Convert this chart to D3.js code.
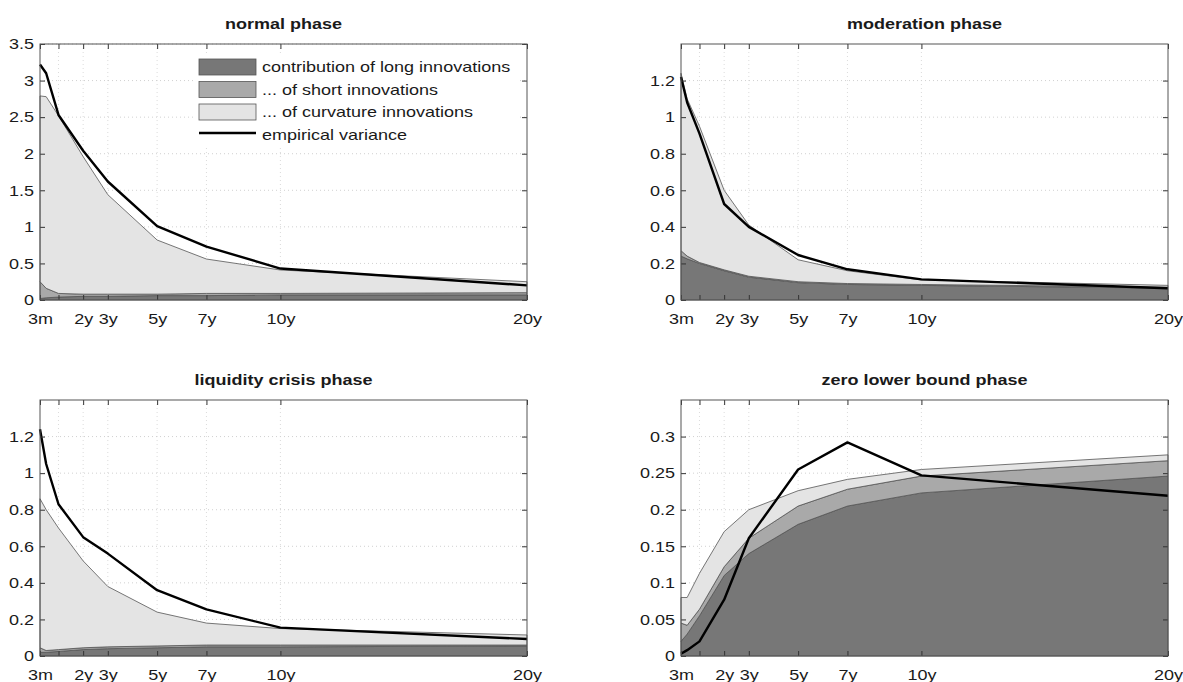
<!DOCTYPE html>
<html>
<head>
<meta charset="utf-8">
<script src="https://cdn.jsdelivr.net/npm/d3@7"></script>
<style>
  html, body { margin: 0; padding: 0; background: #fff; }
  svg { display: block; }
  text { font-family: "Liberation Sans", Arial, Helvetica, sans-serif; fill: #1a1a1a; }
</style>
</head>
<body>
<svg id="chart" width="1183" height="682"></svg>
<script>
// ---- data ----
const maturities = [0.25, 0.5, 1, 2, 3, 5, 7, 10, 20];
const xTickValues = [0.25, 1, 2, 3, 5, 7, 10, 20];
const xTickLabels = ["3m", "", "2y", "3y", "5y", "7y", "10y", "20y"];

const titles = ["normal phase", "moderation phase", "liquidity crisis phase", "zero lower bound phase"];
const yMax = [3.5, 1.4, 1.4, 0.35];
const yTicksNormal = [0, 0.5, 1, 1.5, 2, 2.5, 3, 3.5];
const yTicksModeration = [0, 0.2, 0.4, 0.6, 0.8, 1, 1.2];
const yTicksLiquidity = [0, 0.2, 0.4, 0.6, 0.8, 1, 1.2];
const yTicksZLB = [0, 0.05, 0.1, 0.15, 0.2, 0.25, 0.3];

const normalLong  = [0.02, 0.03, 0.04, 0.05, 0.05, 0.06, 0.06, 0.07, 0.07];
const normalShort = [0.23, 0.13, 0.05, 0.03, 0.03, 0.02, 0.03, 0.02, 0.03];
const normalCurv  = [2.54, 2.62, 2.43, 1.88, 1.36, 0.74, 0.47, 0.32, 0.15];
const normalEmp   = [3.22, 3.10, 2.53, 2.04, 1.62, 1.01, 0.73, 0.43, 0.20];

const moderationLong  = [0.24, 0.225, 0.20, 0.16, 0.125, 0.095, 0.085, 0.08, 0.065];
const moderationShort = [0.03, 0.015, 0.005, 0.005, 0.005, 0.005, 0.005, 0.005, 0.005];
const moderationCurv  = [0.97, 0.86, 0.745, 0.435, 0.28, 0.12, 0.07, 0.025, 0.01];
const moderationEmp   = [1.22, 1.08, 0.91, 0.525, 0.40, 0.246, 0.168, 0.113, 0.064];

const liquidityLong  = [0.02, 0.02, 0.025, 0.035, 0.04, 0.045, 0.05, 0.05, 0.055];
const liquidityShort = [0.025, 0.01, 0.01, 0.01, 0.01, 0.01, 0.01, 0.01, 0.005];
const liquidityCurv  = [0.815, 0.77, 0.665, 0.475, 0.33, 0.185, 0.12, 0.09, 0.055];
const liquidityEmp   = [1.24, 1.05, 0.83, 0.65, 0.56, 0.36, 0.255, 0.155, 0.093];

const zlbLong  = [0.02, 0.03, 0.055, 0.11, 0.14, 0.18, 0.205, 0.223, 0.246];
const zlbShort = [0.025, 0.012, 0.009, 0.012, 0.021, 0.025, 0.023, 0.023, 0.021];
const zlbCurv  = [0.035, 0.038, 0.049, 0.048, 0.039, 0.021, 0.0135, 0.009, 0.008];
const zlbEmp   = [0.003, 0.008, 0.02, 0.077, 0.161, 0.255, 0.292, 0.247, 0.219];

const legendLabels = ["contribution of long innovations", "... of short innovations", "... of curvature innovations", "empirical variance"];

// ---- build ----
const panels = [
  { title: titles[0], ymax: yMax[0], yTicks: yTicksNormal, long: normalLong, short: normalShort, curv: normalCurv, emp: normalEmp },
  { title: titles[1], ymax: yMax[1], yTicks: yTicksModeration, long: moderationLong, short: moderationShort, curv: moderationCurv, emp: moderationEmp },
  { title: titles[2], ymax: yMax[2], yTicks: yTicksLiquidity, long: liquidityLong, short: liquidityShort, curv: liquidityCurv, emp: liquidityEmp },
  { title: titles[3], ymax: yMax[3], yTicks: yTicksZLB, long: zlbLong, short: zlbShort, curv: zlbCurv, emp: zlbEmp }
];

const layout = [
  { x: 40, y: 44 }, { x: 681, y: 44 },
  { x: 40, y: 400 }, { x: 681, y: 400 }
];
const W = 487, H = 256;
const colors = { long: "#777777", short: "#a9a9a9", curv: "#e4e4e4" };
const keys = ["long", "short", "curv"];

const svg = d3.select("#chart");

panels.forEach((p, i) => {
  const g = svg.append("g").attr("transform", `translate(${layout[i].x},${layout[i].y})`);
  const x = d3.scaleLinear().domain([0.25, 20]).range([0, W]);
  const y = d3.scaleLinear().domain([0, p.ymax]).range([H, 0]);

  // grid
  const grid = g.append("g");
  grid.selectAll("line.h").data(p.yTicks.slice(1)).join("line")
    .attr("x1", 0).attr("x2", W).attr("y1", d => y(d)).attr("y2", d => y(d))
    .attr("stroke", "#c4c4c4").attr("stroke-width", 0.8).attr("stroke-dasharray", "1,3");
  grid.selectAll("line.v").data(xTickValues.slice(1, -1)).join("line")
    .attr("y1", 0).attr("y2", H).attr("x1", d => x(d)).attr("x2", d => x(d))
    .attr("stroke", "#d2d2d2").attr("stroke-width", 0.8).attr("stroke-dasharray", "1,3");

  const rows = maturities.map((m, j) => ({ m, long: p.long[j], short: p.short[j], curv: p.curv[j] }));
  const stack = d3.stack().keys(keys)(rows);
  const area = d3.area().x(d => x(d.data.m)).y0(d => y(d[0])).y1(d => y(d[1]));
  g.selectAll("path.area").data(stack).join("path")
    .attr("d", area)
    .attr("fill", d => colors[d.key])
    .attr("stroke", "#555")
    .attr("stroke-width", 0.8)
    .attr("stroke-linejoin", "round");

  const line = d3.line().x((d, j) => x(maturities[j])).y(d => y(d));
  g.append("path").datum(p.emp).attr("d", line)
    .attr("fill", "none").attr("stroke", "#000").attr("stroke-width", 2.4)
    .attr("stroke-linejoin", "round");

  // axes (inward ticks)
  const fs = "15px";
  const bottom = g.append("g").attr("transform", `translate(0,${H})`)
    .call(d3.axisBottom(x).tickValues(xTickValues).tickFormat((d, j) => xTickLabels[j]).tickSize(-5).tickPadding(13));
  const top = g.append("g")
    .call(d3.axisTop(x).tickValues(xTickValues).tickFormat("").tickSize(-5));
  const left = g.append("g")
    .call(d3.axisLeft(y).tickValues(p.yTicks).tickFormat(d3.format("~g")).tickSize(-5).tickPadding(6));
  const right = g.append("g").attr("transform", `translate(${W},0)`)
    .call(d3.axisRight(y).tickValues(p.yTicks).tickFormat("").tickSize(-5));
  [bottom, top, left, right].forEach(a => {
    a.select(".domain").remove();
    a.selectAll(".tick line").attr("stroke", "#333").attr("stroke-width", 1);
    a.selectAll("text").attr("font-size", fs).attr("fill", "#1a1a1a")
      .attr("font-family", "'Liberation Sans', Arial, sans-serif");
  });

  g.append("rect").attr("width", W).attr("height", H)
    .attr("fill", "none").attr("stroke", "#555").attr("stroke-width", 1);

  g.append("text").attr("class", "title")
    .attr("x", W / 2).attr("y", -15)
    .attr("text-anchor", "middle")
    .attr("font-size", "15px").attr("font-weight", "bold")
    .text(p.title);

  if (i === 0) {
    const lg = g.append("g").attr("transform", "translate(159,9)");
    lg.append("rect").attr("x", -4).attr("y", 0).attr("width", 325).attr("height", 92).attr("fill", "#fff");
    const patchKeys = ["long", "short", "curv"];
    patchKeys.forEach((k, j) => {
      lg.append("rect").attr("x", 0).attr("y", 6 + j * 22.5).attr("width", 57).attr("height", 16)
        .attr("fill", colors[k]).attr("stroke", "#555").attr("stroke-width", 0.8);
    });
    lg.append("line").attr("x1", 0).attr("x2", 57).attr("y1", 80).attr("y2", 80)
      .attr("stroke", "#000").attr("stroke-width", 2.4);
    legendLabels.forEach((t, j) => {
      lg.append("text").attr("x", 63).attr("y", 14 + j * 22.5).attr("dy", "0.35em")
        .attr("font-size", "15px").text(t);
    });
  }
});

// horizontally stretch text to match the reference's wider glyphs
svg.selectAll("text").each(function () {
  const w = this.getComputedTextLength();
  if (w > 0) {
    d3.select(this).attr("textLength", w * 1.2).attr("lengthAdjust", "spacingAndGlyphs");
  }
});
</script>
</body>
</html>
